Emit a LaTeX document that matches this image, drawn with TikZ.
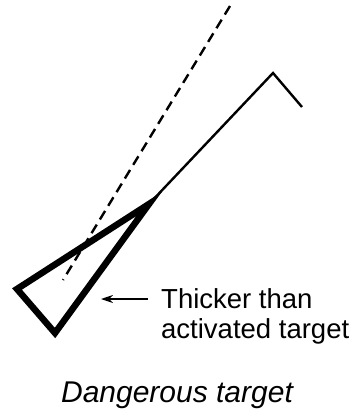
\documentclass[tikz,border=0pt]{standalone}
\usepackage{fontspec}
\setmainfont{Liberation Sans}
\usetikzlibrary{arrows.meta}
\begin{document}
\begin{tikzpicture}[x=1pt,y=-1pt,
  thickline/.style={line width=6.5pt, line join=miter},
  thinline/.style={line width=2.4pt},
  dashline/.style={line width=2.4pt, dash pattern=on 10pt off 6pt},
  label/.style={font=\fontsize{27.5}{33}\selectfont, inner sep=0pt, anchor=base west},
  title/.style={font=\fontsize{30}{36}\selectfont\itshape, inner sep=0pt, anchor=base}]
\useasboundingbox (0,0) rectangle (352,410);
% triangle
\coordinate (apex) at (149,204);
\coordinate (left) at (17,289);
\coordinate (bot) at (55,333);
\draw[thickline] (apex) -- (left) -- (bot) -- cycle;
% solid heading line with hook
\coordinate (peak) at (273,73);
\coordinate (hook) at (302,107);
\draw[thinline] (apex) -- (peak) -- (hook);
% dashed line
\coordinate (dtop) at (230,6);
\coordinate (dbot) at (63,280);
\draw[dashline] (dtop) -- (dbot);
% label with arrow
\node[label] (l1) at (161,308) {Thicker than};
\node[label] (l2) at (161,338) {activated target};
\coordinate (atail) at (148,299);
\coordinate (atip) at (101,299);
\draw[line width=1.6pt, -{Stealth[length=12pt,width=8pt]}] (atail) -- (atip);
% title
\node[title] (t) at (177,402) {Dangerous target};
\end{tikzpicture}
\end{document}
